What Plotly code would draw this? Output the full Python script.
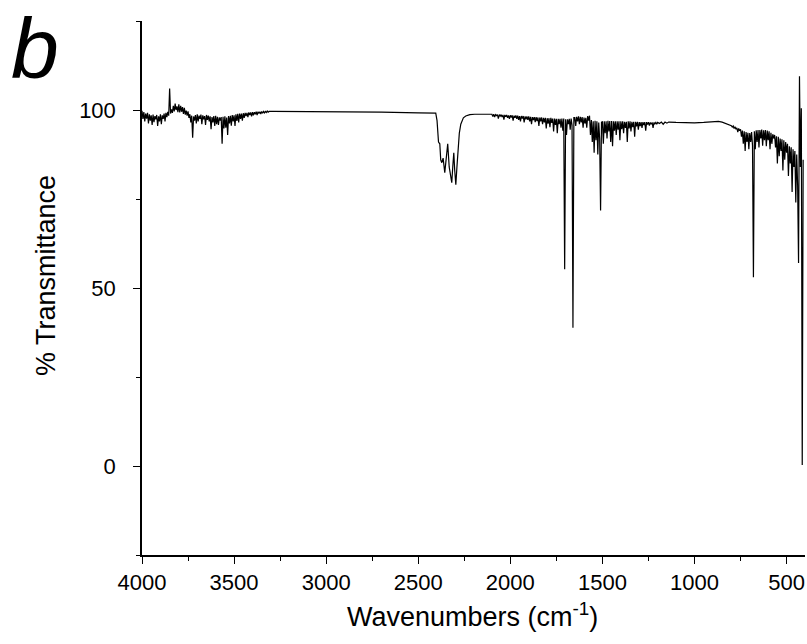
import numpy as np
import plotly.graph_objects as go

# ---- Segment A: 4000 -> 3300 cm-1 in 5 cm-1 steps (O-H / water-vapour region)
wn_a_start, wn_a_step = 4000, 5
t_a = [99.8, 97.5, 99.4, 96.8, 99.0, 97.6, 99.2, 96.2, 98.8, 97.0,
       98.5, 95.8, 98.7, 96.6, 98.3, 97.4, 98.6, 95.5, 98.2, 96.8,
       98.8, 96.0, 98.5, 97.5, 99.0, 96.8, 99.2, 98.0, 99.5, 98.4,
       106.0, 99.0, 100.2, 99.2, 101.2, 99.6, 101.8, 100.0, 101.0, 99.4,
       101.6, 99.3, 101.2, 99.5, 100.8, 98.9, 100.6, 98.7, 99.8, 98.4,
       99.6, 97.8, 98.8, 96.5, 98.4, 92.2, 98.2, 97.0, 98.6, 96.2,
       98.8, 96.8, 98.4, 97.5, 98.7, 96.0, 98.5, 97.4, 98.3, 95.8,
       98.6, 97.2, 98.4, 96.8, 98.2, 94.6, 98.0, 96.5, 98.3, 95.5,
       98.4, 96.0, 98.1, 95.8, 97.9, 97.0, 98.0, 90.5, 98.1, 94.8,
       98.2, 95.0, 97.9, 93.0, 98.3, 96.2, 98.4, 95.6, 98.6, 96.8,
       98.5, 95.5, 98.8, 96.9, 98.9, 96.5, 99.0, 97.5, 99.0, 97.0,
       99.1, 97.8, 99.2, 98.3, 99.2, 98.0, 99.3, 98.6, 99.3, 98.2,
       99.4, 98.5, 99.4, 98.8, 99.5, 98.6, 99.5, 99.0, 99.5, 98.9,
       99.6, 99.1, 99.6, 99.2, 99.6, 99.3, 99.7, 99.4, 99.6, 99.5,
       99.6]

# ---- Segment B: flat region and the CO2 doublet
wn_b = [3290, 3100, 2900, 2700, 2500, 2405, 2398, 2390, 2383, 2378, 2372, 2365,
        2356, 2348, 2340, 2332, 2325, 2318, 2312, 2307, 2302, 2296, 2290, 2285,
        2277, 2269, 2255, 2242, 2220, 2193, 2150, 2105]
t_b = [99.6, 99.6, 99.5, 99.4, 99.2, 99.1, 97.0, 91.0, 90.5, 86.0, 85.2, 86.5,
       82.4, 86.0, 90.5, 84.0, 81.5, 79.6, 84.5, 88.0, 83.0, 79.0, 84.0, 88.5,
       93.5, 96.0, 97.8, 98.3, 98.7, 98.8, 98.8, 98.8]

# ---- Segment C: 2100 -> 1200 cm-1 in 5 cm-1 steps
wn_c_start, wn_c_step = 2100, 5
t_c = [98.8, 98.2, 98.8, 98.0, 98.7, 98.4, 98.7, 97.6, 98.7, 98.3,
       98.7, 98.0, 98.6, 97.3, 98.6, 98.1, 98.6, 97.8, 98.5, 97.5,
       98.5, 97.9, 98.5, 97.0, 98.4, 97.8, 98.5, 97.5, 98.4, 97.2,
       98.3, 96.8, 98.3, 97.6, 98.3, 96.5, 98.2, 97.4, 98.2, 97.2,
       98.2, 96.8, 98.1, 96.0, 98.0, 97.2, 98.0, 96.6, 98.0, 96.9,
       97.9, 95.5, 97.9, 96.8, 97.9, 96.0, 97.8, 96.5, 97.8, 94.8,
       97.7, 96.2, 97.7, 95.2, 97.8, 96.4, 97.6, 94.0, 97.6, 95.8,
       97.5, 93.5, 97.5, 96.0, 97.5, 95.0, 97.6, 94.2, 97.6, 55.3,
       97.4, 93.0, 97.4, 96.0, 97.5, 94.5, 97.6, 95.8, 38.8, 97.9,
       97.9, 95.5, 98.1, 96.8, 98.2, 96.0, 98.1, 96.5, 98.0, 95.0,
       97.9, 96.2, 97.8, 95.0, 98.3, 97.0, 98.4, 93.0, 97.2, 91.0,
       96.8, 88.0, 97.0, 91.5, 96.8, 87.5, 96.5, 92.0, 71.8, 96.6,
       96.7, 90.5, 96.8, 93.5, 96.8, 92.0, 97.0, 94.0, 96.9, 91.0,
       96.9, 89.8, 96.8, 94.2, 96.8, 93.0, 96.8, 94.5, 96.8, 91.5,
       96.8, 94.6, 96.8, 93.5, 96.7, 95.0, 96.7, 91.0, 96.8, 94.8,
       96.8, 94.0, 96.7, 95.2, 96.7, 92.5, 96.7, 95.4, 96.7, 94.5,
       96.6, 95.5, 96.6, 95.0, 96.6, 95.8, 96.6, 94.2, 96.6, 95.9,
       96.6, 95.6, 96.5, 96.0, 96.5, 95.0, 96.5, 96.1, 96.5, 96.0,
       96.5]

# ---- Segment D1: 1190 -> 810 cm-1 (smooth plateau)
wn_d1 = [1190, 1180, 1170, 1160, 1150, 1140, 1100, 1050, 1000, 950, 900, 870,
         850, 830, 810]
t_d1 = [96.2, 96.6, 96.0, 96.6, 96.3, 96.6, 96.5, 96.4, 96.4, 96.5, 96.7, 96.8,
        96.6, 96.2, 95.9]

# ---- Segment D2: 800 -> 410 cm-1 in 5 cm-1 steps (far end)
wn_d2_start, wn_d2_step = 800, 5
t_d2 = [95.6, 95.2, 95.5, 94.8, 95.3, 94.6, 95.0, 93.8, 94.8, 94.2,
        94.6, 92.5, 94.2, 90.5, 94.0, 88.5, 93.8, 91.0, 93.6, 89.0,
        93.5, 91.0, 93.8, 90.0, 53.0, 94.0, 89.0, 94.3, 91.0, 94.4,
        89.5, 94.4, 92.0, 94.5, 90.0, 94.3, 91.5, 94.4, 89.8, 94.2,
        91.5, 94.0, 89.0, 93.6, 90.5, 93.2, 92.0, 93.0, 89.5, 92.6,
        85.0, 92.5, 87.0, 92.0, 88.5, 91.8, 83.0, 91.5, 86.0, 91.0,
        88.0, 90.5, 81.5, 89.8, 85.0, 89.5, 77.0, 89.0, 84.0, 88.5,
        74.0, 87.5, 79.0, 57.0, 109.5, 84.0, 100.5, 0.3, 86.0]

x_ticks = [4000, 3500, 3000, 2500, 2000, 1500, 1000, 500]
y_ticks = [0, 50, 100]

wn_a = wn_a_start - wn_a_step * np.arange(len(t_a))
wn_c = wn_c_start - wn_c_step * np.arange(len(t_c))
wn_d2 = wn_d2_start - wn_d2_step * np.arange(len(t_d2))

wn = np.concatenate([wn_a, wn_b, wn_c, wn_d1, wn_d2])
tr = np.concatenate([t_a, t_b, t_c, t_d1, t_d2])

FONT = "Liberation Sans, Arial, sans-serif"
W, H = 807, 644
L, R, T, B = 142, 2, 21, 89
PW, PH = W - L - R, H - T - B


def px_x(v):   # page px -> paper x
    return (v - L) / PW


def px_y(v):   # page px -> paper y
    return (H - B - v) / PH


fig = go.Figure()
fig.add_trace(go.Scatter(x=wn, y=tr, mode="lines",
                         line=dict(color="black", width=1.2),
                         showlegend=False, hoverinfo="skip"))

fig.update_layout(
    width=W, height=H,
    margin=dict(l=L, r=R, t=T, b=B, autoexpand=False),
    paper_bgcolor="white", plot_bgcolor="white",
    font=dict(family=FONT, color="black"),
)
fig.update_xaxes(
    range=[4000, 400], tickmode="array", tickvals=x_ticks,
    ticktext=[str(v) for v in x_ticks], automargin=False,
    showgrid=False, zeroline=False, showline=True, linecolor="black",
    linewidth=1.5, ticks="outside", ticklen=7, tickwidth=1.2, tickcolor="black",
    tickfont=dict(size=22, family=FONT),
    minor=dict(ticks="outside", ticklen=4, tickwidth=1.2, tickcolor="black",
               dtick=250, tick0=0, showgrid=False),
)
fig.update_yaxes(
    range=[-25, 125], tickmode="array", tickvals=y_ticks,
    ticktext=[str(v) for v in y_ticks], automargin=False,
    showgrid=False, zeroline=False, showline=True, linecolor="black",
    linewidth=1.5, ticks="outside", ticklen=7, tickwidth=1.2, tickcolor="black",
    tickfont=dict(size=22, family=FONT), ticklabelstandoff=13,
    minor=dict(ticks="outside", ticklen=4, tickwidth=1.2, tickcolor="black",
               dtick=25, tick0=0, showgrid=False),
)

# axis titles
fig.add_annotation(text="Wavenumbers (cm<sup>-1</sup>)", xref="paper", yref="paper",
                   x=px_x(472), y=px_y(615),
                   xanchor="center", yanchor="middle", showarrow=False,
                   font=dict(size=27, family=FONT, color="black"))
fig.add_annotation(text="% Transmittance", xref="paper", yref="paper",
                   x=px_x(46), y=px_y(275), textangle=-90,
                   xanchor="center", yanchor="middle", showarrow=False,
                   font=dict(size=27, family=FONT, color="black"))

# panel letter
fig.add_annotation(text="b", xref="paper", yref="paper",
                   x=px_x(9), y=px_y(48),
                   xanchor="left", yanchor="middle", showarrow=False,
                   font=dict(size=86, family=FONT, style="italic", color="black"))

# the page's default 8px body margin would push the 807x644 figure out of view
fig.write_html("out.html",
               config={"displayModeBar": False},
               post_script="document.body.style.margin='0';"
                           "document.body.style.overflow='hidden';")
